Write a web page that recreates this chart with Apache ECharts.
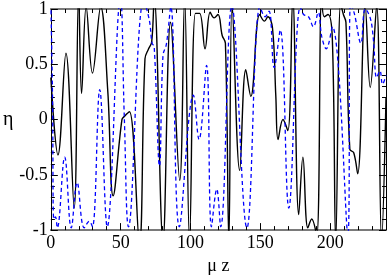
<!DOCTYPE html>
<html><head><meta charset="utf-8">
<script src="https://cdn.jsdelivr.net/npm/echarts@6/dist/echarts.min.js"></script>
<style>html,body{margin:0;padding:0;background:#fff}#c{width:387px;height:280px}</style>
</head><body><div id="c"></div>
<script>
// mu z positions and eta values
const blackZ = [0, 5.1, 10.8, 16.7, 19.9, 22.0, 25.3, 29.8, 35.7, 40.8, 44.6, 50.9, 52.8, 56.3, 63.4, 67.4, 70.0, 72.2, 74.0, 80.3,
  85.7, 92.3, 95.8, 99.3, 103.5, 106.5, 110.4, 114.1, 116.9, 119.7, 122.7, 125.0, 127.5, 129.8, 135.2, 139.6, 143.2, 149.5, 153.0, 155.4,
  158.7, 161.1, 162.7, 166.2, 169.7, 173.2, 177.5, 180.5, 184.0, 186.8, 190.4, 193.9, 195.8, 198.5, 201.6, 204.0, 207.5, 209.5, 211.3, 214.1,
  216.9, 219.7, 225.1, 228.7, 233.3, 236.8, 240];
const blackEta = [0.38, -0.32, 0.60, -0.80, 1.15, 0.235, 1.02, 0.42, 1.02, 0.25, -0.69, 0.0, 0.03, 0.07, -1.12, 0.55, 0.64, 0.70, 1.1, -1.1,
  0.88, -0.55, 1.1, -1.1, 0.96, 0.96, 0.64, 0.97, 0.92, 0.95, 0.76, 0.69, -1.1, 1.05, -0.46, 0.45, 0.21, 0.95, 0.89, 0.93,
  0.83, 0.21, -0.18, 0.0, -0.1, 1.1, -0.86, -0.34, -0.98, -0.9, -1.05, 1.1, 0.93, 0.95, 0.72, -1.1, 1.05, 0.95, 0.88, -0.27,
  -0.3, -0.49, 1.03, 0.29, 1.03, -1.1, 0.2];
const blueZ = [0, 1.2, 2.1, 3.3, 4.6, 9.9, 14.6, 18.8, 23.9, 27.5, 29.8, 35.0, 40.4, 49.8, 52.6, 55.6, 66.5, 70.5, 72.5, 74.0,
  77.8, 80.3, 82.7, 85.9, 92.0, 102.1, 106.1, 111.5, 115.0, 118.8, 121.6, 129.6, 140.4, 149.8, 153.5, 156.3, 159.9, 164.3, 170.4, 178.6,
  181.0, 184.5, 188.0, 191.5, 194.0, 197.2, 201.6, 212.7, 214.6, 217.3, 222.0, 225.1, 228.7, 231.0, 233.3, 235.7, 237.5, 240];
const blueEta = [1.05, 0.2, -0.9, -0.88, -0.98, -0.34, -0.98, -0.57, -0.98, -0.92, -0.97, 0.27, -0.97, 1.1, 0.02, -0.97, 1.08, 0.9, 0.69, 0.66,
  -0.42, 0.58, 0.68, 1.02, -0.97, 0.22, -0.18, 0.49, -0.97, -0.63, -0.97, 1.03, -0.98, 1.02, 0.93, 0.98, 0.47, 0.81, -0.8, 1.02,
  0.95, 0.93, 0.84, 0.97, 0.75, 0.64, 0.84, -1.05, 1.05, 0.96, 0.69, 1.0, 0.92, 0.72, 0.38, 0.44, 0.32, 0.4];
const xTickLabels = [0, 50, 100, 150, 200];
const yTickLabels = [-1, -0.5, 0, 0.5, 1];

const zip = (a, b) => a.map((v, i) => [v, b[i]]);
const FONT = 'Liberation Serif';
const chart = echarts.init(document.getElementById('c'), null, {renderer: 'canvas'});
const xBase = (pos, major, lbl) => ({
  type: 'value', position: pos, min: 0, max: 240, interval: major ? 50 : 10,
  axisLine: {show: major, lineStyle: {color: '#7a7a7a', width: 2}},
  axisTick: {show: true, inside: true, length: major ? 7 : 4, lineStyle: {color: '#000', width: 1}},
  axisLabel: lbl ? {show: true, margin: 4, fontFamily: FONT, fontSize: 18, color: '#000', showMaxLabel: false,
    formatter: v => xTickLabels.includes(v) ? String(v) : ''} : {show: false},
  splitLine: {show: false}
});
const yBase = (pos, lbl) => ({
  type: 'value', position: pos, min: -1, max: 1, interval: 0.5,
  axisLine: {show: true, onZero: false, lineStyle: {color: '#000', width: 1}},
  axisTick: {show: true, inside: true, length: 7, lineStyle: {color: '#000', width: 1}},
  minorTick: {show: true, splitNumber: 5, length: 4, lineStyle: {color: '#000', width: 1}},
  axisLabel: lbl ? {show: true, margin: 3, fontFamily: FONT, fontSize: 18, color: '#000',
    formatter: v => yTickLabels.includes(v) ? String(v) : ''} : {show: false},
  splitLine: {show: false}, minorSplitLine: {show: false}
});
const xa = xBase('bottom', true, true);
xa.name = 'μ z'; xa.nameLocation = 'middle'; xa.nameGap = 24;
xa.nameTextStyle = {fontFamily: FONT, fontSize: 18, color: '#000', verticalAlign: 'middle', align: 'center'};
const ya = yBase('left', true);
ya.name = 'η'; ya.nameLocation = 'middle'; ya.nameGap = 40; ya.nameRotate = 0;
ya.nameTextStyle = {fontFamily: FONT, fontSize: 20, color: '#000', verticalAlign: 'middle', align: 'center'};
const xTop = xBase('top', true, false);
xTop.axisLine.onZero = false; xa.axisLine.onZero = false;
const xa2 = xBase('bottom', false, false), xTop2 = xBase('top', false, false);
xa2.axisLine.onZero = false; xTop2.axisLine.onZero = false;

chart.setOption({
  animation: false,
  backgroundColor: '#fff',
  grid: {left: 46, right: 1, top: 6, bottom: 36, containLabel: false},
  xAxis: [xa, xTop, xa2, xTop2],
  yAxis: [ya, yBase('right', false)],
  series: [
    {type: 'line', data: zip(blackZ, blackEta), xAxisIndex: 0, yAxisIndex: 0, smooth: 0.4, symbol: 'none', clip: true,
      lineStyle: {color: '#000', width: 1.4}},
    {type: 'line', data: zip(blueZ, blueEta), xAxisIndex: 0, yAxisIndex: 0, smooth: 0.4, symbol: 'none', clip: true,
      lineStyle: {color: '#0000ff', width: 1.3, type: [4, 3]}}
  ]
});
</script></body></html>
